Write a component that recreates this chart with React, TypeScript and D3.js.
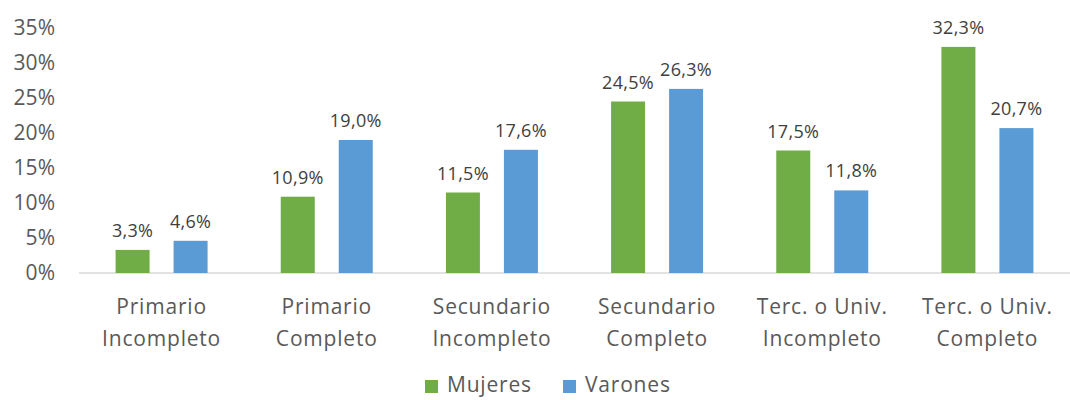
import React from 'react';
import * as d3 from 'd3';

const categories = [
  ['Primario', 'Incompleto'],
  ['Primario', 'Completo'],
  ['Secundario', 'Incompleto'],
  ['Secundario', 'Completo'],
  ['Terc. o Univ.', 'Incompleto'],
  ['Terc. o Univ.', 'Completo'],
];
const mujeres = [3.3, 10.9, 11.5, 24.5, 17.5, 32.3];
const varones = [4.6, 19.0, 17.6, 26.3, 11.8, 20.7];
const yTicks = [0, 5, 10, 15, 20, 25, 30, 35];
const seriesNames = ['Mujeres', 'Varones'];
const colors = ['#70AD47', '#5B9BD5'];

const W = 1070;
const H = 400;
const font = 'Open Sans, Noto Sans, sans-serif';

const App = () => {
  const x = d3.scaleBand<number>().domain(d3.range(categories.length)).range([79, 1070]);
  const y = d3.scaleLinear().domain([0, 35]).range([273, 28]);
  const barW = 34;
  const gap = 24;
  const fmt = (v: number) => v.toFixed(1).replace('.', ',') + '%';
  const series = [mujeres, varones];

  return (
    <svg width={W} height={H} style={{ position: 'absolute', left: 0, top: 0 }} fontFamily={font}>
      <rect width={W} height={H} fill="#fff" />
      {yTicks.map((t) => (
        <text key={t} x={55} y={y(t)} dy="0.35em" textAnchor="end" fontSize={21} fill="#595959">
          {t}%
        </text>
      ))}
      <line x1={79} x2={1070} y1={y(0)} y2={y(0)} stroke="#d9d9d9" strokeWidth={1.5} />
      {categories.map((c, i) => {
        const cx = x(i)! + x.bandwidth() / 2;
        return (
          <g key={i}>
            {series.map((s, j) => {
              const bx = j === 0 ? cx - gap / 2 - barW : cx + gap / 2;
              return (
                <g key={j}>
                  <rect x={bx} y={y(s[i])} width={barW} height={y(0) - y(s[i])} fill={colors[j]} />
                  <text x={bx + barW / 2} y={y(s[i]) - 13} textAnchor="middle" fontSize={18} letterSpacing={0.3} fill="#404040">
                    {fmt(s[i])}
                  </text>
                </g>
              );
            })}
            <text x={cx} y={314} textAnchor="middle" fontSize={21} letterSpacing={0.8} fill="#595959">
              {c[0]}
            </text>
            <text x={cx} y={346} textAnchor="middle" fontSize={21} letterSpacing={0.8} fill="#595959">
              {c[1]}
            </text>
          </g>
        );
      })}
      {seriesNames.map((n, j) => {
        const lx = j === 0 ? 425 : 563;
        return (
          <g key={n}>
            <rect x={lx} y={380} width={13} height={13} fill={colors[j]} />
            <text x={lx + 22} y={392} fontSize={21} letterSpacing={0.8} fill="#595959">
              {n}
            </text>
          </g>
        );
      })}
    </svg>
  );
};

export default App;
